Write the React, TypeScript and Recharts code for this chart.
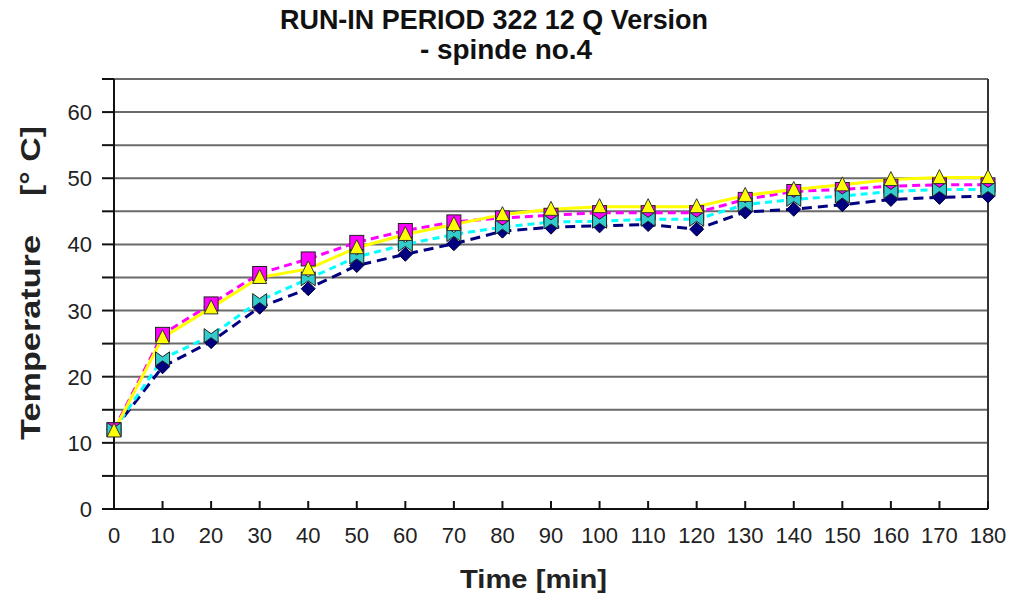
import React from 'react';
import { LineChart, Line, XAxis, YAxis, CartesianGrid, ReferenceLine } from 'recharts';

const times = [0, 10, 20, 30, 40, 50, 60, 70, 80, 90, 100, 110, 120, 130, 140, 150, 160, 170, 180];
const navySeries = [12, 21.5, 25.3, 30.5, 33.3, 36.8, 38.5, 40.1, 42, 42.6, 42.8, 43, 42.3, 44.9, 45.3, 46, 46.8, 47.1, 47.3];
const cyanSeries = [12, 22.7, 26.2, 31.5, 34.8, 38.1, 40, 41.5, 42.6, 43.4, 43.5, 43.8, 43.8, 46, 46.8, 47.3, 48, 48.3, 48.3];
const magentaSeries = [12, 26.4, 31, 35.6, 37.8, 40.3, 42.1, 43.4, 44, 44.4, 44.8, 44.8, 44.8, 46.8, 48, 48.3, 48.8, 49, 49];
const yellowSeries = [11.8, 25.9, 30.4, 35, 36.3, 39.5, 41.5, 43, 44.5, 45.3, 45.7, 45.7, 45.7, 47.4, 48.3, 49, 49.8, 50.1, 50.1];
const xTicks = [0, 10, 20, 30, 40, 50, 60, 70, 80, 90, 100, 110, 120, 130, 140, 150, 160, 170, 180];
const yTicks = [0, 5, 10, 15, 20, 25, 30, 35, 40, 45, 50, 55, 60, 65];
const yLabels = [0, 10, 20, 30, 40, 50, 60];

const data = times.map((t, i) => ({
  t,
  navy: navySeries[i],
  cyan: cyanSeries[i],
  magenta: magentaSeries[i],
  yellow: yellowSeries[i],
}));

const FONT = '"Liberation Sans", Arial, sans-serif';

const XTick = (props: any) => {
  const { x, y, payload } = props;
  return (
    <g>
      <line x1={x} y1={y} x2={x} y2={y - 8} stroke="#111" strokeWidth={2} />
      <text x={x} y={y + 34} textAnchor="middle" fontSize={22} fill="#222" fontFamily={FONT}>
        {payload.value}
      </text>
    </g>
  );
};

const YTick = (props: any) => {
  const { x, y, payload } = props;
  const show = yLabels.includes(payload.value);
  return (
    <g>
      <line x1={x - 12} y1={y} x2={x} y2={y} stroke="#111" strokeWidth={2} />
      {show && (
        <text x={x - 22} y={y + 8} textAnchor="end" fontSize={22} fill="#222" fontFamily={FONT}>
          {payload.value}
        </text>
      )}
    </g>
  );
};

const Square = (props: any) => {
  const { cx, cy } = props;
  if (cx == null || cy == null) return null;
  return <rect x={cx - 7} y={cy - 7} width={14} height={14} fill="#FF00FF" stroke="#222" strokeWidth={1} />;
};

const Triangle = (props: any) => {
  const { cx, cy } = props;
  if (cx == null || cy == null) return null;
  return (
    <polygon
      points={`${cx},${cy - 8} ${cx + 7},${cy + 6} ${cx - 7},${cy + 6}`}
      fill="#FFFF00"
      stroke="#333"
      strokeWidth={1}
    />
  );
};

const Bowtie = (props: any) => {
  const { cx, cy } = props;
  if (cx == null || cy == null) return null;
  return (
    <polygon
      points={`${cx - 7},${cy - 7} ${cx},${cy - 2} ${cx + 7},${cy - 7} ${cx + 7},${cy + 7} ${cx},${cy + 2} ${cx - 7},${cy + 7}`}
      fill="#33CCCC"
      stroke="#222"
      strokeWidth={1}
    />
  );
};

const Diamond = (props: any) => {
  const { cx, cy } = props;
  if (cx == null || cy == null) return null;
  return (
    <polygon
      points={`${cx},${cy - 7} ${cx + 7},${cy} ${cx},${cy + 7} ${cx - 7},${cy}`}
      fill="#000080"
      stroke="#000040"
      strokeWidth={1}
    />
  );
};

export default function App() {
  return (
    <div style={{ position: 'absolute', left: 0, top: 0, width: 1010, height: 596, background: '#fff' }}>
      <LineChart width={1010} height={596} data={data} margin={{ top: 79, right: 22, bottom: 0, left: 0 }}>
        <CartesianGrid vertical={false} stroke="#6a6a6a" strokeWidth={2} />
        <XAxis
          dataKey="t"
          type="number"
          domain={[0, 180]}
          ticks={xTicks}
          tickLine={false}
          tickSize={0}
          tickMargin={0}
          height={87}
          axisLine={{ stroke: '#111', strokeWidth: 2 }}
          tick={<XTick />}
          interval={0}
        />
        <YAxis
          type="number"
          domain={[0, 65]}
          ticks={yTicks}
          tickLine={false}
          tickSize={0}
          tickMargin={0}
          width={114}
          axisLine={{ stroke: '#111', strokeWidth: 2 }}
          tick={<YTick />}
          interval={0}
        />
        <ReferenceLine x={180} stroke="#333" strokeWidth={2} />
        <Line
          dataKey="navy"
          stroke="#000080"
          strokeWidth={3}
          strokeDasharray="10 6"
          dot={<Diamond />}
          isAnimationActive={false}
        />
        <Line
          dataKey="magenta"
          stroke="#FF00FF"
          strokeWidth={3}
          strokeDasharray="8 5"
          dot={<Square />}
          isAnimationActive={false}
        />
        <Line
          dataKey="cyan"
          stroke="#00FFFF"
          strokeWidth={3}
          strokeDasharray="7 5"
          dot={<Bowtie />}
          isAnimationActive={false}
        />
        <Line
          dataKey="yellow"
          stroke="#FFFF00"
          strokeWidth={3}
          dot={<Triangle />}
          isAnimationActive={false}
        />
      </LineChart>
      <svg width={1010} height={596} style={{ position: 'absolute', left: 0, top: 0, pointerEvents: 'none' }}>
        <text x={280} y={29} textLength={428} lengthAdjust="spacingAndGlyphs" fontSize={28} fontWeight="bold" fontFamily={FONT} fill="#111">
          RUN-IN PERIOD 322 12 Q Version
        </text>
        <text x={420} y={59} textLength={172} lengthAdjust="spacingAndGlyphs" fontSize={28} fontWeight="bold" fontFamily={FONT} fill="#111">
          - spinde no.4
        </text>
        <text x={460} y={588} textLength={147} lengthAdjust="spacingAndGlyphs" fontSize={26} fontWeight="bold" fontFamily={FONT} fill="#222">
          Time [min]
        </text>
        <g transform="translate(40, 0) rotate(-90)">
          <text x={-440} y={0} textLength={205} lengthAdjust="spacingAndGlyphs" fontSize={27} fontWeight="bold" fontFamily={FONT} fill="#222">
            Temperature
          </text>
          <text x={-196} y={0} textLength={70} lengthAdjust="spacingAndGlyphs" fontSize={27} fontWeight="bold" fontFamily={FONT} fill="#222">
            [° C]
          </text>
        </g>
      </svg>
    </div>
  );
}
